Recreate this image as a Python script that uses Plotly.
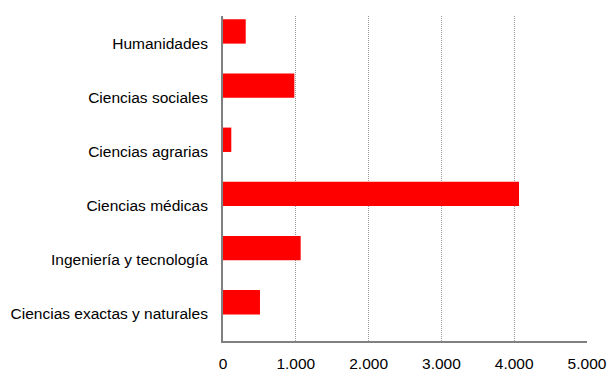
import plotly.graph_objects as go

# Research personnel by field of knowledge (bottom to top)
categories = [
    "Ciencias exactas y naturales",
    "Ingeniería y tecnología",
    "Ciencias médicas",
    "Ciencias agrarias",
    "Ciencias sociales",
    "Humanidades",
]
values = [508, 1067, 4066, 114, 980, 312]
x_ticks = [0, 1000, 2000, 3000, 4000, 5000]

fig = go.Figure(
    go.Bar(
        x=values,
        y=categories,
        orientation="h",
        marker=dict(color="#FF0000", line=dict(width=0)),
        width=0.45,
        offset=-0.01,
    )
)

font_family = "Liberation Sans, Arial, sans-serif"

fig.update_layout(
    width=608,
    height=374,
    margin=dict(l=223, r=21, t=16, b=33),
    paper_bgcolor="white",
    plot_bgcolor="white",
    separators=",.",
    showlegend=False,
    font=dict(family=font_family, size=15.5, color="#000000"),
)

fig.update_xaxes(
    range=[0, 5000],
    tickvals=x_ticks,
    tickformat=",",
    showgrid=True,
    gridcolor="#9A9A9A",
    griddash="1px,1px",
    gridwidth=1,
    zeroline=False,
    showline=True,
    linecolor="#808080",
    linewidth=2,
    ticks="",
    ticklabelstandoff=7,
    automargin=False,
)

fig.update_yaxes(
    type="category",
    categoryorder="array",
    categoryarray=categories,
    range=[-0.5, 5.5],
    showgrid=False,
    zeroline=False,
    showline=True,
    linecolor="#808080",
    linewidth=2,
    ticks="",
    ticklabelstandoff=10,
    automargin=False,
)

fig.write_html("out.html")
